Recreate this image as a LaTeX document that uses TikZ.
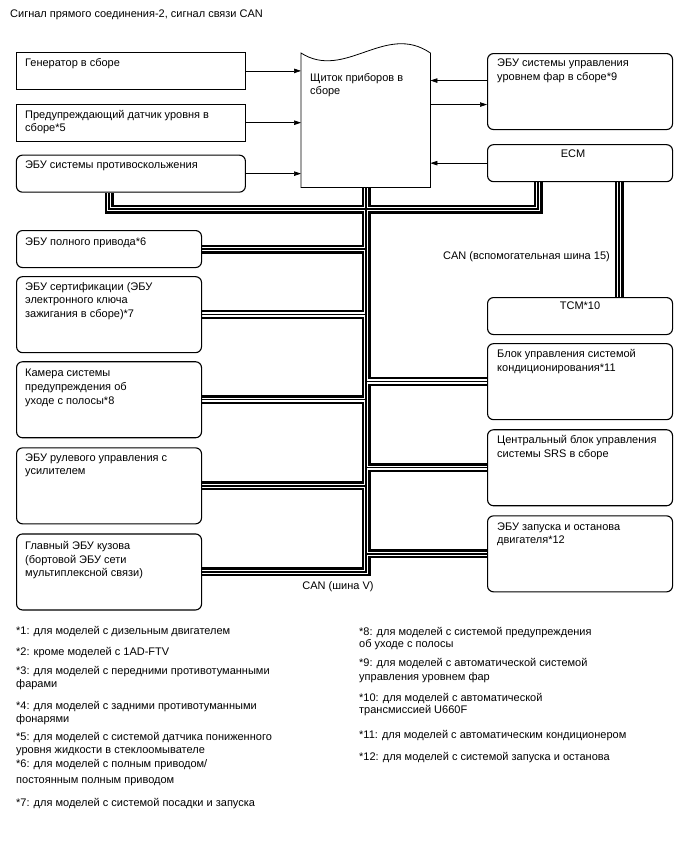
\documentclass[tikz,border=0pt]{standalone}
\usepackage{fontspec}
\setmainfont{Liberation Sans}
\usepackage{tikz}
\usetikzlibrary{arrows.meta, positioning}
\pgfdeclarelayer{background}
\pgfsetlayers{background,main}
\newcommand{\diagfont}{\fontsize{11}{13.6}\selectfont}
\tikzset{
  box/.style={rectangle, draw=black, fill=white, line width=0.8pt,
    minimum width=229pt, minimum height=37pt, inner sep=0pt, anchor=north west},
  rbox/.style={box, rounded corners=6pt, line width=1.1pt, minimum width=185pt},
  tall/.style={minimum height=76pt},
  boxtext/.style={anchor=north west, align=left, inner sep=0pt, font=\diagfont},
  note/.style={anchor=north west, align=left, inner sep=0pt, font=\diagfont},
  arrow/.style={-{Triangle[length=7pt, width=4.5pt]}, line width=0.7pt},
  busl/.style={inner sep=0pt, font=\diagfont}
}

\begin{document}
\begin{tikzpicture}[x=1pt, y=-1pt, node distance=8pt]
  \useasboundingbox (0,0) rectangle (688,852);

  \node[note, anchor=west] (title) at (10,15) {Сигнал прямого соединения-2, сигнал связи CAN};

  % Left column, top
  \node[box] (gen) at (16,52) {};
  \node[box, below=14pt of gen] (warn) {};
  \node[rbox, minimum width=229pt, below=13pt of warn] (abs) {};
  \node[boxtext, below right=6pt and 9pt of gen.north west] (gen-t) {Генератор в сборе};
  \node[boxtext, below right=6pt and 9pt of warn.north west] (warn-t) {Предупреждающий датчик уровня в\\сборе*5};
  \node[boxtext, below right=6pt and 9pt of abs.north west] (abs-t) {ЭБУ системы противоскольжения};

  % Combination meter
  \node[anchor=north west, minimum width=129pt, minimum height=134pt, inner sep=0pt] (cluster) at (301,53) {};
  \draw[line width=0.8pt] (cluster.north west) .. controls +(44,28) and +(-45,-31) .. (cluster.north east)
    -- (cluster.south east) -- (cluster.south west) -- cycle;
  \node[boxtext, below right=20pt and 9pt of cluster.north west] (cluster-t) {Щиток приборов в\\сборе};

  % Right column
  \node[rbox, tall] (hl) at (487,53) {};
  \node[rbox, below=14pt of hl] (ecm) {};
  \node[rbox] (tcm) at (487,297) {};
  \node[rbox, tall, below=8pt of tcm] (ac) {};
  \node[rbox, tall, below=9pt of ac] (srs) {};
  \node[rbox, tall, below=9pt of srs] (ss) {};
  \node[boxtext, below right=6pt and 10pt of hl.north west] (hl-t) {ЭБУ системы управления\\уровнем фар в сборе*9};
  \node[boxtext, below=6pt of ecm.north, xshift=-7pt] (ecm-t) {ECM};
  \node[boxtext, below=5pt of tcm.north] (tcm-t) {TCM*10};
  \node[boxtext, below right=6pt and 10pt of ac.north west] (ac-t) {Блок управления системой\\кондиционирования*11};
  \node[boxtext, below right=6pt and 10pt of srs.north west] (srs-t) {Центральный блок управления\\системы SRS в сборе};
  \node[boxtext, below right=7pt and 10pt of ss.north west] (ss-t) {ЭБУ запуска и останова\\двигателя*12};

  % Left column, lower
  \node[rbox] (awd) at (16,230) {};
  \node[rbox, tall, below=8pt of awd] (cert) {};
  \node[rbox, tall, below=8pt of cert] (cam) {};
  \node[rbox, tall, below=9pt of cam] (eps) {};
  \node[rbox, tall, below=9pt of eps] (body) {};
  \node[boxtext, below right=8pt and 9pt of awd.north west] (awd-t) {ЭБУ полного привода*6};
  \node[boxtext, below right=6pt and 9pt of cert.north west] (cert-t) {ЭБУ сертификации (ЭБУ\\электронного ключа\\зажигания в сборе)*7};
  \node[boxtext, below right=8pt and 9pt of cam.north west] (cam-t) {Камера системы\\предупреждения об\\уходе с полосы*8};
  \node[boxtext, below right=6pt and 9pt of eps.north west] (eps-t) {ЭБУ рулевого управления с\\усилителем};
  \node[boxtext, below right=8pt and 9pt of body.north west] (body-t) {Главный ЭБУ кузова\\(бортовой ЭБУ сети\\мультиплексной связи)};

  % Direct lines
  \draw[arrow] (gen.east) -- (gen.east -| cluster.west);
  \draw[arrow] (warn.east) -- (warn.east -| cluster.west);
  \draw[arrow] (abs.east) -- (abs.east -| cluster.west);
  \draw[arrow] ([yshift=11pt]hl.west) -- ([yshift=11pt]hl.west -| cluster.east);
  \draw[arrow] ([yshift=-13pt]hl.west -| cluster.east) -- ([yshift=-13pt]hl.west);
  \draw[arrow] (ecm.west) -- (ecm.west -| cluster.east);

  % CAN buses
  \coordinate (bus-w) at (109,209);
  \coordinate (bus-e) at (538,209);
  \coordinate (trunk) at (366,209);
  \coordinate (trunk-bot) at (body.east -| trunk);
  \coordinate (can15) at (619,257);
  \begin{pgfonlayer}{background}
    \foreach \lw/\lc in {9pt/black, 4.4pt/white, 1.4pt/black}
      \draw[line width=\lw, draw=\lc]
        (abs.south -| bus-w) -- (bus-w) -- (bus-e) -- (ecm.south -| bus-e)
        (cluster.south -| trunk) -- (trunk-bot) -- (body.east)
        (awd.east) -- (awd.east -| trunk)
        (cert.east) -- (cert.east -| trunk)
        (cam.east) -- (cam.east -| trunk)
        (eps.east) -- (eps.east -| trunk)
        (ac.west) -- (ac.west -| trunk)
        (srs.west) -- (srs.west -| trunk)
        (ss.west) -- (ss.west -| trunk)
        (ecm.south -| can15) -- (tcm.north -| can15);
  \end{pgfonlayer}
  \node[busl, left=9pt of can15] (can15-lbl) {CAN (вспомогательная шина 15)};
  \node[busl, below=9pt of trunk-bot, xshift=-28pt] (canv-lbl) {CAN (шина V)};

  % Notes
  \node[note] (fn1) at (16,626) {*1: для моделей с дизельным двигателем};
  \node[note] (fn2) at (16,647) {*2: кроме моделей с 1AD-FTV};
  \node[note] (fn3) at (16,666) {*3: для моделей с передними противотуманными\\фарами};
  \node[note] (fn4) at (16,701) {*4: для моделей с задними противотуманными\\фонарями};
  \node[note] (fn5) at (16,732) {*5: для моделей с системой датчика пониженного\\уровня жидкости в стеклоомывателе};
  \node[note] (fn6) at (16,759) {*6: для моделей с полным приводом/\\[3pt]постоянным полным приводом};
  \node[note] (fn7) at (16,798) {*7: для моделей с системой посадки и запуска};
  \node[note] (fn8) at (359,627) {*8: для моделей с системой предупреждения\\[-1.5pt]об уходе с полосы};
  \node[note] (fn9) at (359,658) {*9: для моделей с автоматической системой\\[1pt]управления уровнем фар};
  \node[note] (fn10) at (359,693) {*10: для моделей с автоматической\\[-1.5pt]трансмиссией U660F};
  \node[note] (fn11) at (359,730) {*11: для моделей с автоматическим кондиционером};
  \node[note] (fn12) at (359,752) {*12: для моделей с системой запуска и останова};
\end{tikzpicture}
\end{document}
